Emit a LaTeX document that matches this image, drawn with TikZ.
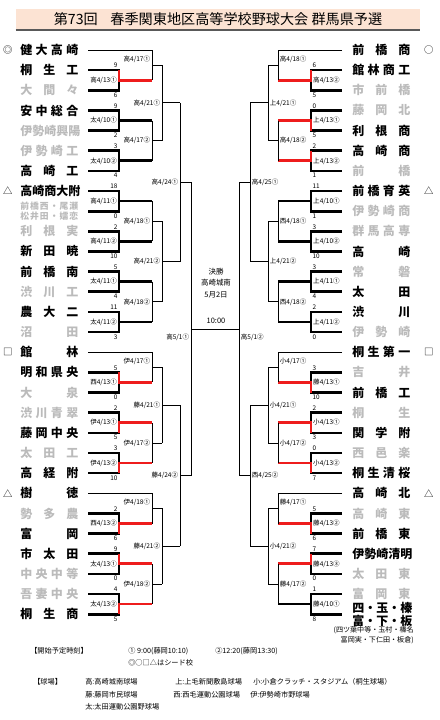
\documentclass[tikz,border=0pt]{standalone}
\usepackage{fontspec}
\setmainfont{Noto Sans CJK JP}
\usetikzlibrary{positioning,calc}
\definecolor{teamgray}{HTML}{BBBBBB}
\definecolor{resred}{HTML}{EE1C1C}
\definecolor{titlepeach}{HTML}{FCE3D3}
\definecolor{titleshadow}{HTML}{595959}
\newlength\namewd
\setlength\namewd{43.5pt}
\def\spreadfirst#1{#1\spreadrest}
\def\spreadrest#1{\ifx#1\relax\else\hfil#1\expandafter\spreadrest\fi}
\newcommand\spreadname[1]{\makebox[\namewd][s]{\expandafter\spreadfirst#1\relax}}
\newcommand\rowy[1]{50+20.15*(#1-1)}
\tikzset{
  team/.style={font=\fontsize{9}{9.75}\selectfont\bfseries, inner sep=0pt, anchor=west, align=left},
  tw/.style={text=black},
  tl/.style={text=teamgray},
  seedmark/.style={font=\fontsize{7}{7}\selectfont, inner sep=0pt},
  mlab/.style={font=\fontsize{4.9}{5}\selectfont, inner sep=0pt},
  score/.style={font=\fontsize{4.8}{5}\selectfont, inner sep=0pt},
  played/.style={line width=2pt},
  openline/.style={line width=0.6pt},
  finaltext/.style={font=\fontsize{5.6}{8.6}\selectfont, inner sep=0pt, align=center},
  legend/.style={font=\fontsize{5.4}{7}\selectfont, inner sep=0pt, anchor=west},
}

\begin{document}
\begin{tikzpicture}[x=0.75pt,y=-0.75pt]
  \useasboundingbox (0,0) rectangle (439,720);
  % Titel
  \node[fill=titlepeach, minimum width=303pt, minimum height=15.5pt, inner sep=0pt,
    font=\fontsize{10.6}{11}\selectfont] (title) at (218,19.5)
    {第73回\hspace{0.9em}春季関東地区高等学校野球大会 群馬県予選};
  \draw[titleshadow, line width=1.5pt] (title.south west) -- (title.south east);

  % Spalten der Runden
  \foreach \n/\x in {L1/119,L2/152,L3/162,L4/180,L5/191,R1/311,R2/278,R3/268,R4/250,R5/239}
    \coordinate (x\n) at (\x,0);

  % Schulen links
  \foreach \i/\nm/\st in {1/健大高崎/tw,2/桐生工/tw,3/大間々/tl,4/安中総合/tw,5/伊勢崎興陽/tl,
      6/伊勢崎工/tl,7/高崎工/tw,8/高崎商大附/tw,10/利根実/tl,11/新田暁/tw,12/前橋南/tw,
      13/渋川工/tl,14/農大二/tw,15/沼田/tl,16/館林/tw,17/明和県央/tw,18/大泉/tl,
      19/渋川青翠/tl,20/藤岡中央/tw,21/太田工/tl,22/高経附/tw,23/樹徳/tw,24/勢多農/tl,
      25/富岡/tw,26/市太田/tw,27/中央中等/tl,28/吾妻中央/tl,29/桐生商/tw}
    \node[team,\st] (L\i) at (20,{\rowy{\i}}) {\spreadname{\nm}};
  \node[team,tl,font=\fontsize{6.6}{7.8}\selectfont\bfseries] (L9) at (20,{\rowy{9}})
    {\spreadname{前橋西・尾瀬}\\\spreadname{松井田・嬬恋}};

  % Schulen rechts
  \foreach \i/\nm/\st in {1/前橋商/tw,2/館林商工/tw,3/市前橋/tl,4/藤岡北/tl,5/利根商/tw,
      6/高崎商/tw,7/前橋/tl,8/前橋育英/tw,9/伊勢崎商/tl,10/群馬高専/tl,11/高崎/tw,
      12/常磐/tl,13/太田/tw,14/渋川/tw,15/伊勢崎/tl,16/桐生第一/tw,17/吉井/tl,
      18/前橋工/tw,19/桐生/tl,20/関学附/tw,21/西邑楽/tl,22/桐生清桜/tw,23/高崎北/tw,
      24/高崎東/tl,25/前橋東/tw,26/伊勢崎清明/tw,27/太田東/tl,28/富岡東/tl}
    \node[team,\st] (R\i) at (352,{\rowy{\i}}) {\spreadname{\nm}};
  \node[team,tw] (R29) at (352,{\rowy{29}})
    {\spreadname{四・玉・榛}\\\spreadname{富・下・板}};
  \node[font=\fontsize{5.3}{7.4}\selectfont, inner sep=0pt, align=right, anchor=north east]
    (R29note) at (414,626) {(四ツ葉中等・玉村・榛名\\富岡実・下仁田・板倉)};

  % Setzplaetze
  \node[seedmark, left=5.5pt of L1] (seedL1) {◎};
  \node[seedmark, left=5.5pt of L8] (seedL8) {△};
  \node[seedmark, left=5.5pt of L16] (seedL16) {□};
  \node[seedmark, left=5.5pt of L23] (seedL23) {△};
  \node[seedmark, right=10pt of R1] (seedR1) {○};
  \node[seedmark, right=10pt of R8] (seedR8) {△};
  \node[seedmark, right=10pt of R16] (seedR16) {□};
  \node[seedmark, right=10pt of R23] (seedR23) {△};

  \foreach \i in {1,...,29}{
    \coordinate (Lt\i) at (88,{\rowy{\i}});
    \coordinate (Rt\i) at (342,{\rowy{\i}});
  }

  % 1. Runde links
  \foreach \m/\ta/\tb/\lp/\ld/\ls/\sca/\scb/\w/\col in {
      La/2/3/高/13/①/9/6/2/resred, Lb/4/5/太/10/①/9/2/4/black,
      Lc/6/7/太/10/②/3/4/7/black, Ld/8/9/高/11/①/18/0/8/black,
      Le/10/11/高/11/②/2/10/11/black, Lf/12/13/太/11/①/5/4/12/black,
      Lg/14/15/太/11/②/11/3/14/black, Lh/17/18/西/13/①/5/0/17/resred,
      Li/19/20/伊/13/①/2/5/20/resred, Lj/21/22/伊/13/②/3/10/22/resred,
      Lk/24/25/西/13/②/2/6/25/resred, Ll/26/27/太/13/①/9/0/26/resred,
      Lm/28/29/太/13/②/4/5/29/resred}{
    \coordinate (\m-t) at (Lt\ta -| xL1);
    \coordinate (\m-b) at (Lt\tb -| xL1);
    \coordinate (\m) at ($(\m-t)!.5!(\m-b)$);
    \draw[played] (Lt\ta) -- (\m-t) -- (\m-b) -- (Lt\tb);
    \draw[played,\col] (Lt\w -| xL1) -- (\m) -- (\m -| xL2) coordinate (\m-o);
    \node[mlab] at ([xshift=-11.6pt]\m) {\lp4/\ld\ls};
    \node[score,anchor=south east] at ([xshift=-1pt,yshift=1.4pt]\m-t) {\sca};
    \node[score,anchor=north east] at ([xshift=-1pt,yshift=-1.6pt]\m-b) {\scb};
  }

  % 1. Runde rechts
  \foreach \m/\ta/\tb/\lp/\ld/\ls/\sca/\scb/\w/\col in {
      Ra/2/3/高/13/②/6/5/2/resred, Rb/4/5/上/13/①/0/5/5/resred,
      Rc/6/7/上/13/②/2/1/6/resred, Rd/8/9/上/10/①/11/1/8/black,
      Re/10/11/上/10/②/3/10/11/black, Rf/12/13/上/11/①/3/4/13/black,
      Rg/14/15/上/11/②/2/0/14/black, Rh/17/18/藤/13/①/3/10/18/resred,
      Ri/19/20/小/13/①/2/3/20/resred, Rj/21/22/小/13/②/0/7/22/resred,
      Rk/24/25/藤/13/②/5/6/25/resred, Rl/26/27/藤/13/③/7/0/26/resred,
      Rm/28/29/藤/10/①/1/8/29/black}{
    \coordinate (\m-t) at (Rt\ta -| xR1);
    \coordinate (\m-b) at (Rt\tb -| xR1);
    \coordinate (\m) at ($(\m-t)!.5!(\m-b)$);
    \draw[played] (Rt\ta) -- (\m-t) -- (\m-b) -- (Rt\tb);
    \draw[played,\col] (Rt\w -| xR1) -- (\m) -- (\m -| xR2) coordinate (\m-o);
    \node[mlab] at ([xshift=11.6pt]\m) {\lp4/\ld\ls};
    \node[score,anchor=south west] at ([xshift=1pt,yshift=1.4pt]\m-t) {\sca};
    \node[score,anchor=north west] at ([xshift=1pt,yshift=-1.6pt]\m-b) {\scb};
  }

  % weitere Runden links
  \foreach \m/\p/\q/\rx/\nx/\lp/\lm/\ld/\ls/\dy in {
      Ma/Lt1/La-o/xL2/xL3/高/4/17/①/4.5, Mb/Lb-o/Lc-o/xL2/xL3/高/4/17/②/0,
      Mc/Ld-o/Le-o/xL2/xL3/高/4/18/①/0, Md/Lf-o/Lg-o/xL2/xL3/高/4/18/②/0,
      Me/Lt16/Lh-o/xL2/xL3/伊/4/17/①/4.5, Mf/Li-o/Lj-o/xL2/xL3/伊/4/17/②/0,
      Mg/Lt23/Lk-o/xL2/xL3/伊/4/18/①/4.5, Mh/Ll-o/Lm-o/xL2/xL3/伊/4/18/②/0,
      Na/Ma-o/Mb-o/xL3/xL4/高/4/21/①/0, Nb/Mc-o/Md-o/xL3/xL4/高/4/21/②/0,
      Nc/Me-o/Mf-o/xL3/xL4/藤/4/21/①/0, Nd/Mg-o/Mh-o/xL3/xL4/藤/4/21/②/0,
      Pa/Na-o/Nb-o/xL4/xL5/高/4/24/①/0, Pb/Nc-o/Nd-o/xL4/xL5/藤/4/24/②/0,
      Qa/Pa-o/Pb-o/xL5/xL5/高/5/1/①/-6}{
    \coordinate (\m-t) at (\p -| \rx);
    \coordinate (\m-b) at (\q -| \rx);
    \coordinate (\m) at ($(\m-t)!.5!(\m-b)$);
    \draw[openline] (\p) -- (\m-t) -- (\m-b) -- (\q);
    \draw[openline] (\m) -- (\m -| \nx) coordinate (\m-o);
    \node[mlab,anchor=east] at ([xshift=-1.2pt,yshift=\dy pt]\m) {\lp\lm/\ld\ls};
  }

  % weitere Runden rechts
  \foreach \m/\p/\q/\rx/\nx/\lp/\lm/\ld/\ls/\dy in {
      Sa/Rt1/Ra-o/xR2/xR3/高/4/18/①/4.5, Sb/Rb-o/Rc-o/xR2/xR3/高/4/18/②/0,
      Sc/Rd-o/Re-o/xR2/xR3/西/4/18/①/0, Sd/Rf-o/Rg-o/xR2/xR3/西/4/18/②/0,
      Se/Rt16/Rh-o/xR2/xR3/小/4/17/①/4.5, Sf/Ri-o/Rj-o/xR2/xR3/小/4/17/②/0,
      Sg/Rt23/Rk-o/xR2/xR3/藤/4/17/①/4.5, Sh/Rl-o/Rm-o/xR2/xR3/藤/4/17/②/0,
      Ta/Sa-o/Sb-o/xR3/xR4/上/4/21/①/0, Tb/Sc-o/Sd-o/xR3/xR4/上/4/21/②/0,
      Tc/Se-o/Sf-o/xR3/xR4/小/4/21/①/0, Td/Sg-o/Sh-o/xR3/xR4/小/4/21/②/0,
      Ua/Ta-o/Tb-o/xR4/xR5/高/4/25/①/0, Ub/Tc-o/Td-o/xR4/xR5/西/4/25/②/0,
      Qb/Ua-o/Ub-o/xR5/xR5/高/5/1/②/-6}{
    \coordinate (\m-t) at (\p -| \rx);
    \coordinate (\m-b) at (\q -| \rx);
    \coordinate (\m) at ($(\m-t)!.5!(\m-b)$);
    \draw[openline] (\p) -- (\m-t) -- (\m-b) -- (\q);
    \draw[openline] (\m) -- (\m -| \nx) coordinate (\m-o);
    \node[mlab,anchor=west] at ([xshift=1.2pt,yshift=\dy pt]\m) {\lp\lm/\ld\ls};
  }

  % Finale
  \draw[openline] (Qa) -- (Qb);
  \node[finaltext] (final) at (216,283) {決勝\\高崎城南\\5月2日};
  \node[finaltext] (kickoff) at (216,321) {10:00};

  % Legende
  \node[legend] (timehead) at (30,651) {【開始予定時刻】};
  \node[legend] (time1) at (128,651) {①\ 9:00(藤岡10:10)};
  \node[legend] (time2) at (215,651) {②12:20(藤岡13:30)};
  \node[legend] (seednote) at (128,663) {◎○□△はシード校};
  \node[legend] (parkhead) at (33,682) {【球場】};
  \node[legend] (parkA) at (85,682) {高:高崎城南球場};
  \node[legend] (parkB) at (175,682) {上:上毛新聞敷島球場};
  \node[legend] (parkC) at (253,682) {小:小倉クラッチ・スタジアム（桐生球場）};
  \node[legend] (parkD) at (85,695) {藤:藤岡市民球場};
  \node[legend] (parkE) at (173,695) {西:西毛運動公園球場};
  \node[legend] (parkF) at (250,695) {伊:伊勢崎市野球場};
  \node[legend] (parkG) at (85,707) {太:太田運動公園野球場};
\end{tikzpicture}
\end{document}
